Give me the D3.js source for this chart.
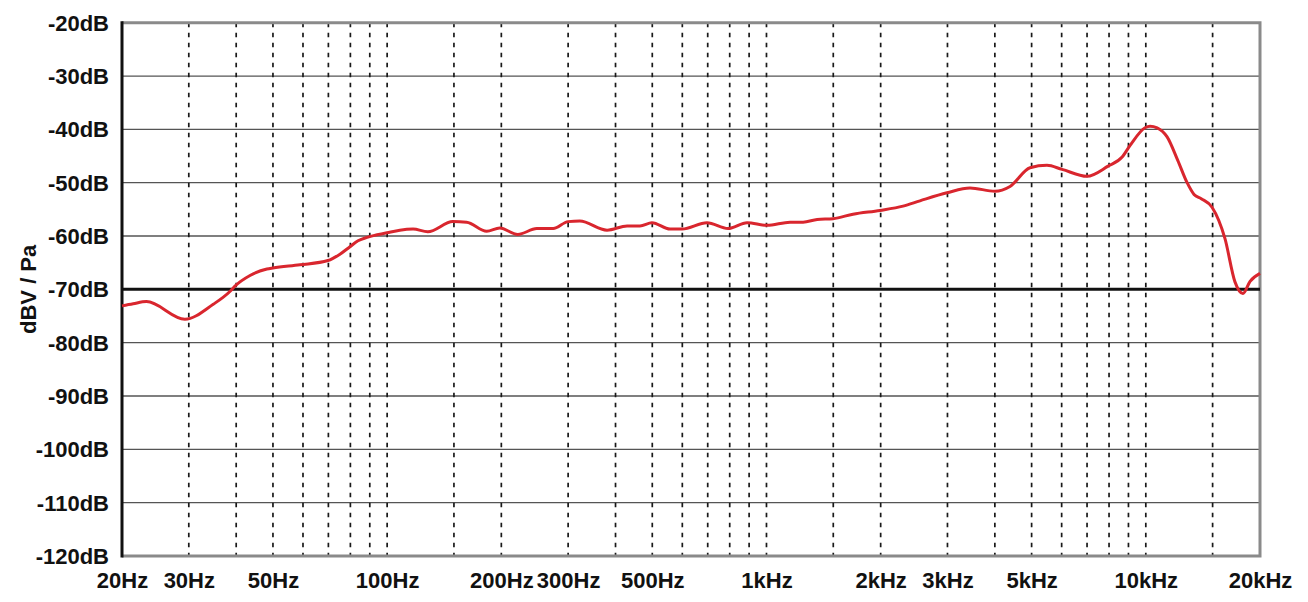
<!DOCTYPE html>
<html lang="en">
<head>
    <meta charset="UTF-8">
    <title>dBV / Pa frequency response</title>
    <script src="https://d3js.org/d3.v7.min.js"></script>
    <style>
        body {
            margin: 0;
            background: #fff;
        }

        .etiqueta {
            font-family: "Liberation Sans", Arial, sans-serif;
            font-size: 22px;
            font-weight: 700;
            fill: #111;
        }
    </style>
</head>
<body>
<svg width="1308" height="602"></svg>

<script type="application/javascript">

    // respuesta medida (Hz, dB)
    const freqs = [20, 21.4, 23.2, 29.3, 34.8, 38.5, 39.7, 43.5, 48.2, 50, 58.9, 69.8, 75.1, 79.8, 83.8, 89,
        99.9, 108, 117, 128, 149, 162, 183, 198, 221, 248, 274, 300, 322, 380, 429, 464, 499, 557, 599,
        697, 792, 889, 1003, 1154, 1249, 1360, 1498, 1691, 1992, 2291, 2539, 2991, 3440, 4003, 4386,
        4951, 5489, 6013, 6998, 7953, 8661, 9091, 9954, 10260, 10710, 11380, 12140, 12850, 13400, 14000,
        14950, 16170, 17180, 18030, 18830, 20000]
    const levels = [-73.1, -72.7, -72.3, -75.6, -72.8, -70.4, -69.4, -67.4, -66.2, -66.0, -65.4, -64.6,
        -63.4, -62.0, -60.9, -60.2, -59.4, -58.9, -58.7, -59.2, -57.3, -57.4, -59.1, -58.5, -59.7, -58.6,
        -58.6, -57.3, -57.2, -58.9, -58.1, -58.1, -57.5, -58.7, -58.7, -57.5, -58.6, -57.5, -58.0, -57.4,
        -57.4, -56.9, -56.75, -55.9, -55.2, -54.4, -53.4, -51.9, -51.0, -51.6, -50.7, -47.2, -46.75, -47.5,
        -48.8, -46.9, -45.2, -43.0, -39.7, -39.4, -39.7, -41.4, -45.8, -50.0, -52.2, -53.0, -54.6, -60.5,
        -68.6, -70.8, -68.5, -67.0]

    const xTickValues = [20, 30, 50, 100, 200, 300, 500, 1000, 2000, 3000, 5000, 10000, 20000]
    const xTickLabels = ["20Hz", "30Hz", "50Hz", "100Hz", "200Hz", "300Hz", "500Hz", "1kHz", "2kHz",
        "3kHz", "5kHz", "10kHz", "20kHz"]
    const gridFreqs = [30, 40, 50, 60, 70, 80, 90, 100, 150, 200, 300, 400, 500, 600, 700, 800, 900, 1000,
        1500, 2000, 3000, 4000, 5000, 6000, 7000, 8000, 9000, 10000, 15000]
    const yTickValues = [-20, -30, -40, -50, -60, -70, -80, -90, -100, -110, -120]
    const yTickLabels = ["-20dB", "-30dB", "-40dB", "-50dB", "-60dB", "-70dB", "-80dB", "-90dB", "-100dB",
        "-110dB", "-120dB"]
    const yTitle = "dBV / Pa"

    const izq = 122, der = 1260, arriba = 22.7, abajo = 556

    const svg = d3.select("svg")

    const x = d3.scaleLog().domain([20, 20000]).range([izq, der])
    const y = d3.scaleLinear().domain([-20, -120]).range([arriba, abajo])

    // lineas horizontales
    svg.append("g")
        .selectAll("line")
        .data(yTickValues)
        .enter()
        .append("line")
        .attr("x1", izq)
        .attr("x2", der)
        .attr("y1", d => y(d))
        .attr("y2", d => y(d))
        .attr("stroke", "#555")
        .attr("stroke-width", 1.3)

    // lineas verticales punteadas
    svg.append("g")
        .selectAll("line")
        .data(gridFreqs)
        .enter()
        .append("line")
        .attr("x1", d => x(d))
        .attr("x2", d => x(d))
        .attr("y1", arriba)
        .attr("y2", abajo)
        .attr("stroke", "#1a1a1a")
        .attr("stroke-width", 1.7)
        .attr("stroke-dasharray", "4.5,5.5")

    // marco gris (arriba, abajo, derecha)
    svg.append("path")
        .attr("d", `M${izq},${y(-20)}H${der}V${y(-120)}H${izq}`)
        .attr("fill", "none")
        .attr("stroke", "#8a8a8a")
        .attr("stroke-width", 3)

    // linea de -70dB
    svg.append("line")
        .attr("x1", izq)
        .attr("x2", der)
        .attr("y1", y(-70))
        .attr("y2", y(-70))
        .attr("stroke", "#111")
        .attr("stroke-width", 3)

    // eje izquierdo
    svg.append("line")
        .attr("x1", izq)
        .attr("x2", izq)
        .attr("y1", arriba - 1.5)
        .attr("y2", abajo + 1.5)
        .attr("stroke", "#111")
        .attr("stroke-width", 3)

    // curva
    const puntos = freqs.map((f, i) => [f, levels[i]])
    svg.append("path")
        .datum(puntos)
        .attr("fill", "none")
        .attr("stroke", "#d9262e")
        .attr("stroke-width", 3)
        .attr("stroke-linejoin", "round")
        .attr("d", d3.line()
            .x(d => x(d[0]))
            .y(d => y(d[1]))
            .curve(d3.curveMonotoneX))

    // ejes con texto
    const ejeY = svg.append("g")
        .attr("transform", `translate(${izq},0)`)
        .call(d3.axisLeft(y)
            .tickValues(yTickValues)
            .tickFormat((d, i) => yTickLabels[i])
            .tickSize(0)
            .tickPadding(13))
    ejeY.select(".domain").remove()
    ejeY.selectAll("text").attr("class", "etiqueta").attr("fill", null).attr("dy", "0.34em")

    const ejeX = svg.append("g")
        .attr("transform", `translate(0,${abajo})`)
        .call(d3.axisBottom(x)
            .tickValues(xTickValues)
            .tickFormat((d, i) => xTickLabels[i])
            .tickSize(0)
            .tickPadding(16.5))
    ejeX.select(".domain").remove()
    ejeX.selectAll("text").attr("class", "etiqueta").attr("fill", null)

    // titulo eje y
    svg.append("text")
        .attr("class", "etiqueta")
        .attr("text-anchor", "middle")
        .attr("transform", `translate(36,${y(-70)}) rotate(-90)`)
        .text(yTitle)

</script>
</body>
</html>
